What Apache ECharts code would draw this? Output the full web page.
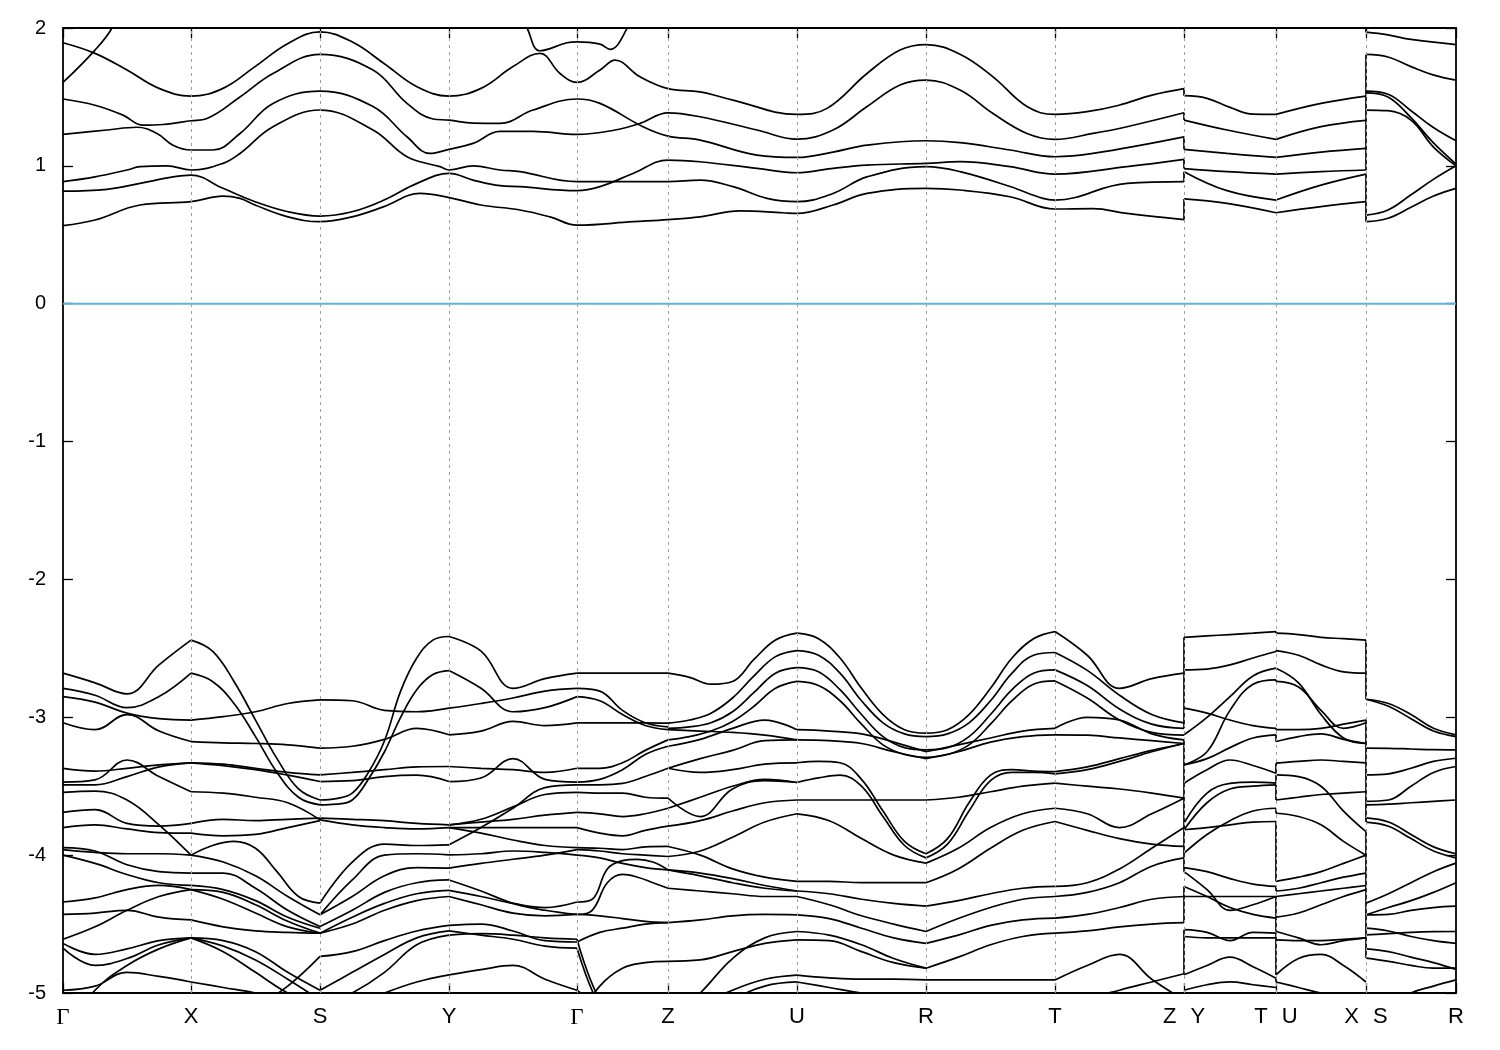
<!DOCTYPE html>
<html><head><meta charset="utf-8">
<script src="https://cdn.jsdelivr.net/npm/echarts@6/dist/echarts.min.js"></script>
<style>html,body{margin:0;padding:0;background:#fff}#c{width:1500px;height:1050px}</style>
</head><body><div id="c"></div>
<script>
// k-path (distance along path) of high-symmetry points and their labels
const kPoints = [0,128,257,386,514,605,734,863,992,1121,1213,1303,1393];
const kLabels = ['Γ','X','S','Y','Γ','Z','U','R','T','Z|Y','T|U','X|S','R'];
const segBounds = [[0,128],[128,257],[257,386],[386,514],[514,605],[605,734],[734,863],[863,992],[992,1121],[1121,1213],[1213,1303],[1303,1393]];
const jumpKs = [1121,1213,1303];

// ---------- conduction bands: [k, E] pairs ----------
const condA = [[0,1.893],[32,1.816],[64,1.695],[96,1.562],[128,1.506],[160,1.562],[192,1.72],[225,1.888],[257,1.972],[289,1.90],[321,1.743],[354,1.574],[386,1.506],[418,1.562],[450,1.72],[477,1.816],[497,1.67],[514,1.605],[537,1.695],[552,1.767],[577,1.646],[605,1.56],[637,1.537],[670,1.477],[734,1.373],[764,1.417],[804,1.67],[837,1.84],[863,1.88],[897,1.81],[930,1.646],[964,1.43],[992,1.373],[1024,1.393],[1056,1.44],[1089,1.513],[1121,1.56]];
const condB1 = [[0,1.605],[32,1.84],[49,2.0],[60,2.2]];
const condB2 = [[450,2.2],[464,2.0],[477,1.835],[504,1.893],[514,1.90],[537,1.883],[547,1.845],[564,1.997],[575,2.2]];
const condC = [[0,1.485],[32,1.44],[60,1.368],[80,1.295],[100,1.30],[128,1.327],[144,1.344],[177,1.5],[210,1.67],[257,1.808],[310,1.695],[344,1.453],[370,1.34],[386,1.332],[410,1.31],[437,1.308],[470,1.405],[514,1.485],[537,1.453],[580,1.284],[605,1.216],[637,1.187],[694,1.078],[734,1.061],[770,1.10],[804,1.15],[863,1.182],[897,1.168],[947,1.115],[992,1.066],[1030,1.09],[1121,1.21]];
const condD = [[0,1.228],[44,1.26],[74,1.28],[94,1.235],[110,1.15],[128,1.115],[150,1.115],[177,1.235],[210,1.453],[257,1.542],[310,1.43],[344,1.211],[367,1.09],[386,1.12],[410,1.163],[437,1.25],[470,1.25],[514,1.228],[552,1.26],[577,1.308],[605,1.385],[637,1.356],[694,1.26],[734,1.194],[770,1.26],[804,1.43],[837,1.586],[863,1.622],[897,1.55],[930,1.38],[964,1.235],[992,1.192],[1030,1.235],[1064,1.284],[1121,1.385]];
const condE = [[0,0.885],[32,0.92],[64,0.97],[77,0.994],[104,1.0],[128,0.97],[160,1.018],[177,1.09],[210,1.284],[257,1.405],[310,1.26],[344,1.066],[377,0.994],[386,0.97],[410,1.0],[437,0.97],[457,0.958],[514,0.885],[554,0.885],[605,0.885],[637,0.897],[670,0.849],[704,0.764],[734,0.74],[770,0.80],[804,0.92],[863,0.994],[897,0.958],[947,0.85],[980,0.764],[992,0.752],[1064,0.873],[1121,0.885]];
const condF = [[0,0.817],[44,0.83],[77,0.873],[110,0.92],[128,0.933],[160,0.837],[192,0.74],[225,0.667],[257,0.636],[289,0.667],[321,0.752],[354,0.873],[386,0.945],[410,0.897],[437,0.856],[457,0.849],[514,0.82],[537,0.849],[570,0.945],[605,1.042],[637,1.03],[694,0.982],[734,0.95],[770,0.982],[804,1.006],[863,1.018],[897,1.03],[947,0.994],[992,0.94],[1064,0.994],[1121,1.047]];
const condG = [[0,0.566],[32,0.607],[77,0.716],[128,0.74],[160,0.78],[177,0.764],[192,0.716],[225,0.63],[257,0.595],[289,0.63],[321,0.704],[357,0.80],[386,0.77],[418,0.716],[457,0.68],[487,0.63],[514,0.57],[570,0.595],[605,0.61],[637,0.63],[677,0.674],[720,0.66],[734,0.655],[770,0.716],[804,0.80],[863,0.837],[897,0.825],[947,0.776],[992,0.687],[1030,0.69],[1064,0.655],[1121,0.61]];
const condYT = [
 [[1121,1.509],[1144,1.49],[1167,1.424],[1190,1.375],[1213,1.373]],
 [[1121,1.332],[1164,1.26],[1213,1.192]],
 [[1121,1.12],[1164,1.09],[1213,1.061]],
 [[1121,0.98],[1164,0.958],[1213,0.94]],
 [[1121,0.958],[1164,0.82],[1213,0.752]],
 [[1121,0.76],[1164,0.728],[1213,0.66]]
];
const condUX = [
 [[1213,1.373],[1258,1.453],[1303,1.506]],
 [[1213,1.192],[1258,1.284],[1303,1.33]],
 [[1213,1.061],[1258,1.10],[1303,1.127]],
 [[1213,0.94],[1258,0.958],[1303,0.97]],
 [[1213,0.752],[1258,0.86],[1303,0.94]],
 [[1213,0.66],[1258,0.704],[1303,0.74]]
];
const condSR = [
 [[1303,1.97],[1325,1.95],[1348,1.917],[1393,1.88]],
 [[1303,1.808],[1325,1.79],[1348,1.72],[1370,1.66],[1393,1.622]],
 [[1303,1.542],[1325,1.52],[1348,1.40],[1370,1.28],[1393,1.182]],
 [[1303,1.53],[1325,1.50],[1348,1.35],[1370,1.17],[1393,1.013]],
 [[1303,1.405],[1325,1.40],[1348,1.332],[1370,1.14],[1393,1.0]],
 [[1303,0.643],[1325,0.68],[1348,0.79],[1370,0.90],[1393,1.0]],
 [[1303,0.595],[1325,0.62],[1348,0.70],[1370,0.78],[1393,0.837]]
];

// ---------- valence bands: energies evenly spaced along each segment ----------
const vGX = [
 [-2.68,-2.75,-2.83,-2.62,-2.44],[-2.79,-2.84,-2.93,-2.85,-2.68],[-2.85,-2.89,-2.97,-3.01,-3.02],
 [-3.04,-3.09,-2.98,-3.10,-3.176],[-3.37,-3.39,-3.37,-3.345,-3.33],[-3.47,-3.454,-3.31,-3.43,-3.54],
 [-3.49,-3.49,-3.43,-3.36,-3.33],[-3.545,-3.535,-3.60,-3.78,-4.0],[-3.69,-3.67,-3.77,-3.79,-3.77],
 [-3.80,-3.78,-3.81,-3.836,-3.84],[-3.945,-3.97,-4.07,-4.12,-4.13],[-3.96,-3.98,-3.99,-3.99,-4.0],
 [-4.0,-4.06,-4.14,-4.20,-4.22],[-4.34,-4.31,-4.25,-4.22,-4.25],[-4.43,-4.42,-4.40,-4.45,-4.47],
 [-4.61,-4.52,-4.40,-4.30,-4.25],[-4.64,-4.72,-4.68,-4.62,-4.60],[-4.675,-4.80,-4.75,-4.65,-4.60],
 [-4.98,-4.95,-4.85,-4.88,-4.92],[-5.3,-4.98,-4.80,-4.68,-4.60]
];
const vXS = [
 [-2.44,-2.52,-2.74,-3.02,-3.30,-3.52,-3.60],[-2.68,-2.74,-2.90,-3.14,-3.40,-3.58,-3.635],
 [-3.02,-2.995,-2.96,-2.90,-2.874],[-3.176,-3.185,-3.19,-3.20,-3.224],[-3.33,-3.34,-3.37,-3.40,-3.418],
 [-3.33,-3.35,-3.38,-3.42,-3.466],[-3.54,-3.55,-3.58,-3.62,-3.744],[-3.77,-3.74,-3.75,-3.74,-3.732],
 [-3.84,-3.86,-3.85,-3.80,-3.75],[-4.0,-3.93,-3.90,-3.95,-4.12,-4.30,-4.348],[-4.0,-4.05,-4.15,-4.30,-4.433],
 [-4.13,-4.13,-4.24,-4.40,-4.518],[-4.25,-4.27,-4.36,-4.48,-4.566],[-4.47,-4.52,-4.55,-4.56,-4.566],
 [-4.60,-4.66,-4.76,-4.90,-5.05],[-4.92,-4.96,-5.0,-5.05,-5.1],[-5.3,-5.2,-5.1,-4.95,-4.735],
 [-4.22,-4.25,-4.33,-4.45,-4.53],[-4.25,-4.32,-4.42,-4.52,-4.566],[-4.60,-4.70,-4.85,-5.0,-5.1],
 [-4.60,-4.62,-4.70,-4.85,-4.98]
];
const vSY = [
 [-3.60,-3.59,-3.55,-3.40,-3.17,-2.81,-2.57,-2.44,-2.414],[-3.635,-3.63,-3.60,-3.45,-3.25,-3.0,-2.80,-2.69,-2.661],
 [-2.874,-2.88,-2.95,-2.96,-2.934],[-3.224,-3.21,-3.16,-3.08,-3.127],[-3.418,-3.40,-3.38,-3.36,-3.357],
 [-3.466,-3.46,-3.43,-3.42,-3.466],[-3.732,-3.74,-3.75,-3.77,-3.78],[-3.744,-3.78,-3.80,-3.81,-3.80],
 [-4.348,-4.05,-3.92,-3.93,-3.925],[-4.433,-4.18,-4.0,-3.99,-3.998],[-4.433,-4.30,-4.15,-4.09,-4.094],
 [-4.518,-4.40,-4.27,-4.20,-4.18],[-4.566,-4.45,-4.35,-4.28,-4.256],[-4.566,-4.50,-4.40,-4.33,-4.30],
 [-4.735,-4.70,-4.62,-4.55,-4.51],[-4.98,-4.85,-4.72,-4.60,-4.55],[-5.1,-5.0,-4.85,-4.65,-4.58],
 [-5.2,-5.1,-5.0,-4.92,-4.868]
];
const vYG = [
 [-2.414,-2.52,-2.79,-2.72,-2.68],[-2.661,-2.79,-2.96,-2.93,-2.85],[-2.934,-2.90,-2.86,-2.81,-2.79],
 [-3.127,-3.10,-3.03,-3.06,-3.04],[-3.357,-3.37,-3.38,-3.40,-3.37],[-3.466,-3.44,-3.30,-3.45,-3.47],
 [-3.78,-3.74,-3.65,-3.56,-3.545],[-3.80,-3.84,-3.89,-3.93,-3.945],[-3.925,-3.80,-3.66,-3.51,-3.49],
 [-3.998,-3.99,-3.97,-3.98,-4.0],[-4.094,-4.06,-4.03,-4.0,-3.96],[-4.18,-4.26,-4.35,-4.40,-4.43],
 [-4.256,-4.30,-4.35,-4.38,-4.34],[-4.30,-4.36,-4.42,-4.44,-4.43],[-4.51,-4.50,-4.55,-4.62,-4.63],
 [-4.55,-4.58,-4.61,-4.66,-4.675],[-4.58,-4.57,-4.58,-4.60,-4.61],[-4.868,-4.83,-4.80,-4.90,-4.98],
 [-3.78,-3.76,-3.74,-3.71,-3.69],[-3.80,-3.80,-3.80,-3.80,-3.80]
];
const vGZ = [
 [-2.68,-2.68,-2.68,-2.68,-2.68],[-2.79,-2.81,-2.95,-3.04,-3.07],[-2.85,-2.88,-2.98,-3.06,-3.09],
 [-3.04,-3.04,-3.04,-3.04,-3.043],[-3.37,-3.37,-3.33,-3.24,-3.164],[-3.47,-3.45,-3.38,-3.27,-3.21],
 [-3.49,-3.49,-3.48,-3.43,-3.37],[-3.545,-3.55,-3.55,-3.58,-3.587],[-3.69,-3.70,-3.72,-3.70,-3.66],
 [-3.80,-3.84,-3.86,-3.82,-3.79],[-3.945,-3.95,-3.96,-3.94,-3.937],[-3.96,-3.97,-3.99,-4.0,-4.01],
 [-4.0,-4.02,-4.06,-4.09,-4.107],[-4.34,-4.32,-4.10,-4.04,-4.03,-4.05,-4.107],
 [-4.43,-4.40,-4.20,-4.14,-4.16,-4.20,-4.24],[-4.63,-4.56,-4.53,-4.50,-4.49],
 [-4.61,-5.05,-5.2,-5.2,-5.2],[-4.675,-5.1,-5.3,-5.3,-5.3],[-5.2,-4.95,-4.82,-4.78,-4.77],
 [-4.98,-5.1,-5.2,-5.2,-5.2],[-4.43,-4.44,-4.46,-4.48,-4.49]
];
const vZU = [
 [-2.68,-2.71,-2.76,-2.74,-2.58,-2.44,-2.39],[-3.043,-3.02,-2.97,-2.86,-2.70,-2.56,-2.516],
 [-3.08,-3.07,-3.04,-2.96,-2.82,-2.68,-2.64],[-3.164,-3.14,-3.10,-3.03,-2.92,-2.79,-2.74],
 [-3.21,-3.16,-3.08,-3.02,-3.09],[-3.37,-3.30,-3.24,-3.17,-3.164],[-3.37,-3.40,-3.38,-3.34,-3.33],
 [-3.587,-3.72,-3.52,-3.46,-3.473],[-3.66,-3.58,-3.50,-3.45,-3.473],[-4.01,-3.97,-3.87,-3.76,-3.70],
 [-3.79,-3.75,-3.68,-3.62,-3.60],[-3.937,-4.0,-4.10,-4.16,-4.19],[-4.107,-4.15,-4.20,-4.24,-4.26],
 [-4.24,-4.26,-4.28,-4.30,-4.30],[-4.49,-4.47,-4.44,-4.43,-4.433],[-4.77,-4.76,-4.70,-4.64,-4.614],
 [-5.2,-5.0,-4.75,-4.60,-4.554],[-5.3,-5.1,-4.98,-4.90,-4.87],[-5.3,-5.2,-5.05,-4.95,-4.92],
 [-3.09,-3.10,-3.11,-3.13,-3.164],[-4.107,-4.13,-4.17,-4.22,-4.26]
];
const vUR = [
 [-2.39,-2.43,-2.57,-2.79,-2.98,-3.09,-3.115],[-2.516,-2.55,-2.68,-2.88,-3.04,-3.12,-3.14],
 [-2.64,-2.67,-2.80,-2.98,-3.14,-3.22,-3.236],[-2.74,-2.77,-2.88,-3.05,-3.20,-3.27,-3.29],
 [-3.09,-3.10,-3.12,-3.18,-3.25],[-3.164,-3.17,-3.19,-3.25,-3.30],
 [-3.33,-3.32,-3.33,-3.45,-3.68,-3.90,-3.99],[-3.473,-3.44,-3.42,-3.50,-3.72,-3.93,-4.02],
 [-3.6,-3.6,-3.6,-3.6,-3.6],[-3.70,-3.75,-3.88,-4.00,-4.058],[-4.19,-4.19,-4.20,-4.20,-4.2],
 [-4.26,-4.28,-4.32,-4.35,-4.37],[-4.30,-4.36,-4.44,-4.50,-4.554],[-4.433,-4.46,-4.53,-4.60,-4.64],
 [-4.554,-4.58,-4.65,-4.75,-4.82],[-4.614,-4.62,-4.70,-4.78,-4.82],[-4.87,-4.89,-4.90,-4.90,-4.905],
 [-4.92,-4.96,-5.0,-5.02,-5.05]
];
const vRT = [
 [-3.115,-3.09,-2.98,-2.79,-2.57,-2.43,-2.378],[-3.14,-3.12,-3.04,-2.88,-2.68,-2.55,-2.53],
 [-3.236,-3.22,-3.14,-2.98,-2.80,-2.68,-2.656],[-3.29,-3.27,-3.20,-3.05,-2.88,-2.76,-2.736],
 [-3.6,-3.58,-3.54,-3.50,-3.478],[-3.99,-3.88,-3.62,-3.42,-3.38,-3.39,-3.394],
 [-4.02,-3.92,-3.68,-3.46,-3.40,-3.40,-3.41],[-3.25,-3.20,-3.15,-3.10,-3.08],[-3.30,-3.25,-3.18,-3.14,-3.127],
 [-4.058,-3.95,-3.80,-3.70,-3.66],[-4.2,-4.10,-3.95,-3.82,-3.756],[-4.37,-4.33,-4.28,-4.24,-4.227],
 [-4.554,-4.46,-4.38,-4.32,-4.30],[-4.64,-4.58,-4.51,-4.47,-4.457],[-4.82,-4.74,-4.65,-4.59,-4.566],
 [-4.905,-4.905,-4.905,-4.905,-4.905]
];
const vTZ = [
 [-2.378,-2.55,-2.79,-2.72,-2.68],[-2.53,-2.66,-2.84,-2.98,-3.04],[-2.656,-2.77,-2.94,-3.05,-3.08],
 [-2.736,-2.86,-3.02,-3.11,-3.13],[-3.08,-3.0,-3.02,-3.12,-3.164],[-3.127,-3.13,-3.15,-3.17,-3.19],
 [-3.394,-3.36,-3.30,-3.24,-3.19],[-3.478,-3.50,-3.52,-3.55,-3.587],[-3.66,-3.70,-3.80,-3.70,-3.587],
 [-3.756,-3.82,-3.88,-3.92,-3.937],[-4.227,-4.20,-4.10,-3.95,-3.80],[-4.30,-4.27,-4.20,-4.08,-4.02],
 [-4.457,-4.43,-4.38,-4.32,-4.30],[-4.566,-4.55,-4.52,-4.50,-4.49],[-4.905,-4.80,-4.72,-4.90,-5.05],
 [-5.2,-5.05,-4.98,-4.92,-4.86],[-3.41,-3.38,-3.32,-3.25,-3.19]
];
const vYT = [
 [-2.42,-2.41,-2.40,-2.39,-2.378],[-2.656,-2.65,-2.62,-2.57,-2.523],[-3.127,-3.0,-2.85,-2.70,-2.644],
 [-3.345,-3.25,-2.95,-2.76,-2.728],[-2.934,-2.97,-3.02,-3.06,-3.08],[-3.345,-3.30,-3.22,-3.15,-3.127],
 [-3.478,-3.38,-3.31,-3.35,-3.406],[-3.768,-3.55,-3.48,-3.47,-3.478],[-3.816,-3.62,-3.52,-3.50,-3.49],
 [-3.986,-3.85,-3.75,-3.68,-3.66],[-3.816,-3.80,-3.78,-3.76,-3.756],[-4.09,-4.12,-4.17,-4.21,-4.227],
 [-4.12,-4.25,-4.40,-4.36,-4.30],[-4.227,-4.30,-4.38,-4.43,-4.457],[-4.30,-4.30,-4.30,-4.30,-4.30],
 [-4.541,-4.56,-4.62,-4.56,-4.566],[-4.59,-4.60,-4.60,-4.60,-4.60],[-4.868,-4.80,-4.74,-4.81,-4.893],
 [-4.98,-4.94,-4.92,-4.94,-4.96]
];
const vUX = [
 [-2.39,-2.40,-2.42,-2.43,-2.44],[-2.516,-2.55,-2.62,-2.67,-2.68],[-2.644,-2.75,-2.98,-3.15,-3.19],
 [-2.74,-2.78,-2.95,-3.08,-3.04],[-3.09,-3.09,-3.08,-3.05,-3.02],[-3.176,-3.14,-3.12,-3.16,-3.19],
 [-3.333,-3.32,-3.31,-3.32,-3.33],[-3.418,-3.43,-3.50,-3.68,-3.83],[-3.6,-3.58,-3.56,-3.55,-3.54],
 [-3.696,-3.72,-3.78,-3.90,-4.0],[-4.19,-4.16,-4.12,-4.06,-4.0],[-4.26,-4.24,-4.20,-4.16,-4.13],
 [-4.30,-4.28,-4.26,-4.24,-4.22],[-4.45,-4.42,-4.36,-4.30,-4.25],[-4.554,-4.60,-4.65,-4.62,-4.60],
 [-4.614,-4.62,-4.62,-4.61,-4.60],[-4.868,-4.75,-4.72,-4.80,-4.92],[-4.92,-4.96,-5.0,-5.02,-5.05]
];
const vSR = [
 [-2.869,-2.90,-2.98,-3.08,-3.127],[-2.869,-2.92,-3.01,-3.10,-3.14],[-3.224,-3.225,-3.23,-3.235,-3.236],
 [-3.418,-3.41,-3.37,-3.32,-3.297],[-3.61,-3.60,-3.50,-3.40,-3.357],[-3.635,-3.63,-3.62,-3.61,-3.6],
 [-3.73,-3.76,-3.85,-3.94,-3.99],[-3.76,-3.79,-3.88,-3.97,-4.02],[-4.348,-4.28,-4.20,-4.12,-4.058],
 [-4.433,-4.38,-4.33,-4.27,-4.2],[-4.53,-4.55,-4.59,-4.62,-4.64],[-4.578,-4.57,-4.56,-4.555,-4.554],
 [-4.747,-4.77,-4.80,-4.82,-4.82],[-4.68,-4.70,-4.74,-4.78,-4.83],[-5.2,-5.1,-5.0,-4.95,-4.905],
 [-4.433,-4.43,-4.40,-4.38,-4.37]
];
const valenceBySegment = [vGX,vXS,vSY,vYG,vGZ,vZU,vUR,vRT,vTZ,vYT,vUX,vSR];

// ---------- build curves ----------
const curves = [];
valenceBySegment.forEach((list, si) => {
  const [a, b] = segBounds[si];
  list.forEach(vals => {
    const n = vals.length;
    curves.push(vals.map((e, i) => [a + (b - a) * i / (n - 1), e]));
  });
});
[condA, condB1, condB2, condC, condD, condE, condF, condG].forEach(c => curves.push(c));
[condYT, condUX, condSR].forEach(list => list.forEach(c => curves.push(c)));

// vertical jump connectors at the path discontinuities
const connData = [];
jumpKs.forEach(J => {
  const ends = [], starts = [];
  curves.forEach(c => {
    const f = c[0], l = c[c.length - 1];
    if (Math.abs(l[0] - J) < 1e-6) ends.push(l[1]);
    if (Math.abs(f[0] - J) < 1e-6) starts.push(f[1]);
  });
  const inR = v => v >= -5 && v <= 2;
  const ve = ends.filter(v => v < 0 && inR(v)).sort((a, b) => b - a);
  const vs = starts.filter(v => v < 0 && inR(v)).sort((a, b) => b - a);
  for (let i = 0; i < Math.min(ve.length, vs.length); i++) connData.push([J, ve[i]], [J, vs[i]], [J, '-']);
  const ce = ends.filter(v => v > 0).sort((a, b) => a - b);
  const cs = starts.filter(v => v > 0).sort((a, b) => a - b);
  const n = Math.max(ce.length, cs.length);
  for (let i = 0; i < n; i++) connData.push([J, i < ce.length ? ce[i] : 2.0], [J, i < cs.length ? cs[i] : 2.0], [J, '-']);
});

const bandStyle = { color: '#000', width: 1.7 };
const series = curves.map(c => ({
  type: 'line', data: c, smooth: 0.4, symbol: 'none', silent: true,
  lineStyle: bandStyle, z: 3, clip: true
}));
series.push({ type: 'line', data: connData, symbol: 'none', silent: true, lineStyle: bandStyle, z: 3, connectNulls: false });
series.push({
  type: 'line', data: [[0, 0], [1393, 0]], symbol: 'none', silent: true,
  lineStyle: { color: '#56B4E9', width: 2 }, z: 2,
  markLine: {
    silent: true, symbol: 'none', label: { show: false },
    lineStyle: { color: '#a0a0a0', type: [3, 4], width: 1 },
    data: kPoints.slice(1, -1).map(k => ({ xAxis: k }))
  }
});

const labelMap = {};
kPoints.forEach((k, i) => labelMap[k] = kLabels[i]);
function fmtLabel(v) {
  const t = labelMap[v];
  if (t === undefined) return '';
  return t.split('|').map(p => p === 'Γ' ? '{g|Γ}' : '{t|' + p + '}').join('{s|}');
}

const axisLineStyle = { color: '#000', width: 1.8 };
const option = {
  animation: false,
  backgroundColor: '#fff',
  grid: { left: 63, right: 44, top: 28, bottom: 57, containLabel: false },
  xAxis: [
    {
      type: 'value', min: 0, max: 1393, position: 'bottom',
      axisLine: { show: true, onZero: false, lineStyle: axisLineStyle },
      axisTick: { show: true, inside: true, length: 10, customValues: kPoints, lineStyle: { color: '#000', width: 1.3 } },
      axisLabel: {
        show: true, customValues: kPoints, margin: 13, formatter: fmtLabel,
        rich: {
          t: { fontFamily: 'Liberation Sans', fontSize: 22, color: '#000' },
          g: { fontFamily: 'Liberation Serif', fontSize: 23, color: '#000' },
          s: { width: 14 }
        }
      },
      splitLine: { show: false }
    },
    {
      type: 'value', min: 0, max: 1393, position: 'top',
      axisLine: { show: true, onZero: false, lineStyle: axisLineStyle },
      axisTick: { show: true, inside: true, length: 10, customValues: kPoints, lineStyle: { color: '#000', width: 1.3 } },
      axisLabel: { show: false }, splitLine: { show: false }
    }
  ],
  yAxis: [
    {
      type: 'value', min: -5, max: 2, interval: 1, position: 'left',
      axisLine: { show: true, onZero: false, lineStyle: axisLineStyle },
      axisTick: { show: true, inside: true, length: 10, lineStyle: { color: '#000', width: 1.3 } },
      axisLabel: { show: true, fontFamily: 'Liberation Sans', fontSize: 20, color: '#000', margin: 17 },
      splitLine: { show: false }
    },
    {
      type: 'value', min: -5, max: 2, interval: 1, position: 'right',
      axisLine: { show: true, onZero: false, lineStyle: axisLineStyle },
      axisTick: { show: true, inside: true, length: 10, lineStyle: { color: '#000', width: 1.3 } },
      axisLabel: { show: false }, splitLine: { show: false }
    }
  ],
  series: series
};
const chart = echarts.init(document.getElementById('c'), null, { renderer: 'canvas' });
chart.setOption(option);
</script>
</body></html>
